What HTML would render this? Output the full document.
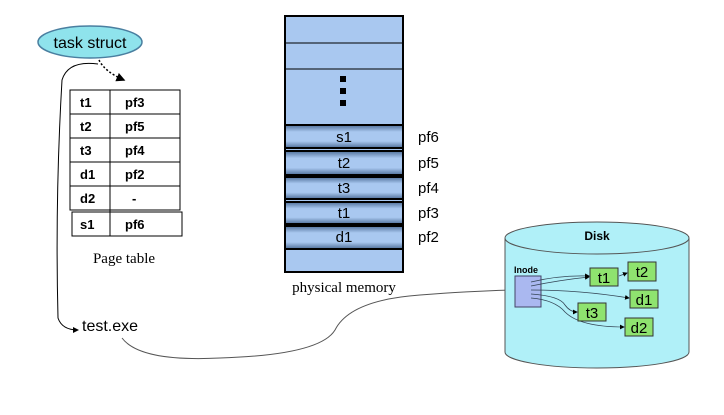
<!DOCTYPE html>
<html><head><style>
body{margin:0;background:#fff;width:724px;height:410px;overflow:hidden;font-family:"Liberation Sans",sans-serif}
</style></head><body>
<svg width="724" height="410" xmlns="http://www.w3.org/2000/svg">
<defs>
<linearGradient id="band" x1="0" y1="0" x2="0" y2="1">
<stop offset="0" stop-color="#4f6f99"/><stop offset="0.3" stop-color="#a9c8f0"/><stop offset="0.7" stop-color="#a9c8f0"/><stop offset="1" stop-color="#4f6f99"/>
</linearGradient>
<marker id="ar" markerWidth="6" markerHeight="6" refX="5" refY="3" orient="auto"><path d="M0,0 L6,3 L0,6z" fill="#000"/></marker>
</defs>
<ellipse cx="90" cy="42" rx="52" ry="16" fill="#8fe3ec" stroke="#4a7fa0" stroke-width="1.5"/>
<text x="90" y="48" font-size="16" text-anchor="middle">task struct</text>
<path d="M99,60 Q105,72 124,80" fill="none" stroke="#000" stroke-dasharray="2,2" stroke-width="1.5" marker-end="url(#ar)"/>
<path d="M98,64 Q68,60 62,80 Q55,200 58,318 Q62,330 78,330" fill="none" stroke="#000" stroke-width="1" marker-end="url(#ar)"/>
<g font-size="13" font-weight="bold">
<rect x="70" y="90" width="110" height="120" fill="#fff" stroke="#000"/>
<line x1="70" y1="114" x2="180" y2="114" stroke="#000"/>
<line x1="70" y1="138" x2="180" y2="138" stroke="#000"/>
<line x1="70" y1="162" x2="180" y2="162" stroke="#000"/>
<line x1="70" y1="186" x2="180" y2="186" stroke="#000"/>
<line x1="110" y1="90" x2="110" y2="236" stroke="#000"/>
<rect x="72" y="212" width="110" height="24" fill="none" stroke="#000"/>
<line x1="110" y1="210" x2="110" y2="236" stroke="#000"/>
<text x="80" y="107">t1</text><text x="125" y="107">pf3</text>
<text x="80" y="131">t2</text><text x="125" y="131">pf5</text>
<text x="80" y="155">t3</text><text x="125" y="155">pf4</text>
<text x="80" y="179">d1</text><text x="125" y="179">pf2</text>
<text x="80" y="203">d2</text><text x="132" y="203">-</text>
<text x="80" y="229">s1</text><text x="125" y="229">pf6</text>
</g>
<text x="124" y="263" font-size="15" text-anchor="middle" font-family="Liberation Serif,serif">Page table</text>
<rect x="285" y="16" width="118" height="256" fill="#a9c8f0" stroke="#000" stroke-width="2"/>
<line x1="285" y1="43" x2="403" y2="43" stroke="#000"/>
<line x1="285" y1="69" x2="403" y2="69" stroke="#000"/>
<rect x="340" y="76" width="6" height="6" fill="#000"/><rect x="340" y="88" width="6" height="6" fill="#000"/><rect x="340" y="100" width="6" height="6" fill="#000"/>
<g stroke="#000" stroke-width="2" fill="url(#band)">
<rect x="285" y="125" width="118" height="23"/>
<rect x="285" y="151" width="118" height="24"/>
<rect x="285" y="177" width="118" height="22"/>
<rect x="285" y="202" width="118" height="22"/>
<rect x="285" y="226" width="118" height="23"/>
</g>
<g font-size="15" text-anchor="middle">
<text x="344" y="142">s1</text><text x="344" y="168">t2</text><text x="344" y="193">t3</text><text x="344" y="218">t1</text><text x="344" y="242">d1</text>
</g>
<g font-size="15">
<text x="418" y="142">pf6</text><text x="418" y="168">pf5</text><text x="418" y="193">pf4</text><text x="418" y="218">pf3</text><text x="418" y="242">pf2</text>
</g>
<text x="344" y="292" font-size="15" text-anchor="middle" font-family="Liberation Serif,serif">physical memory</text>
<text x="82" y="331" font-size="16">test.exe</text>
<path d="M122,338 Q140,362 220,358 Q320,355 335,330 Q350,300 420,295 Q470,291 512,290" fill="none" stroke="#555" stroke-width="1"/>
<path d="M505,238 L505,352 A92,16 0 0 0 689,352 L689,238" fill="#b0f0f8" stroke="#555"/>
<ellipse cx="597" cy="238" rx="92" ry="16" fill="#b0f0f8" stroke="#555"/>
<text x="597" y="240" font-size="12" font-weight="bold" text-anchor="middle">Disk</text>
<text x="514" y="273" font-size="9" font-weight="bold">Inode</text>
<rect x="515" y="276" width="26" height="31" fill="#aab8f0" stroke="#446"/>
<g stroke="#345" fill="none" stroke-width="0.8" marker-end="url(#ar)">
<path d="M531,282 Q560,275 589,276"/>
<path d="M531,286 Q560,280 589,277"/>
<path d="M531,290 Q580,290 629,298"/>
<path d="M531,294 Q560,296 565,305 Q570,312 577,312"/>
<path d="M531,298 Q555,300 565,312 Q580,327 624,327"/>
<path d="M619,276 L627,273"/>
</g>
<g fill="#8fe36f" stroke="#333">
<rect x="590" y="268" width="28" height="18"/><rect x="628" y="262" width="28" height="19"/>
<rect x="630" y="290" width="28" height="18"/><rect x="578" y="303" width="28" height="18"/>
<rect x="625" y="318" width="28" height="18"/>
</g>
<g font-size="15" text-anchor="middle">
<text x="604" y="283">t1</text><text x="642" y="277">t2</text><text x="644" y="305">d1</text><text x="592" y="318">t3</text><text x="639" y="333">d2</text>
</g>
</svg>
</body></html>
